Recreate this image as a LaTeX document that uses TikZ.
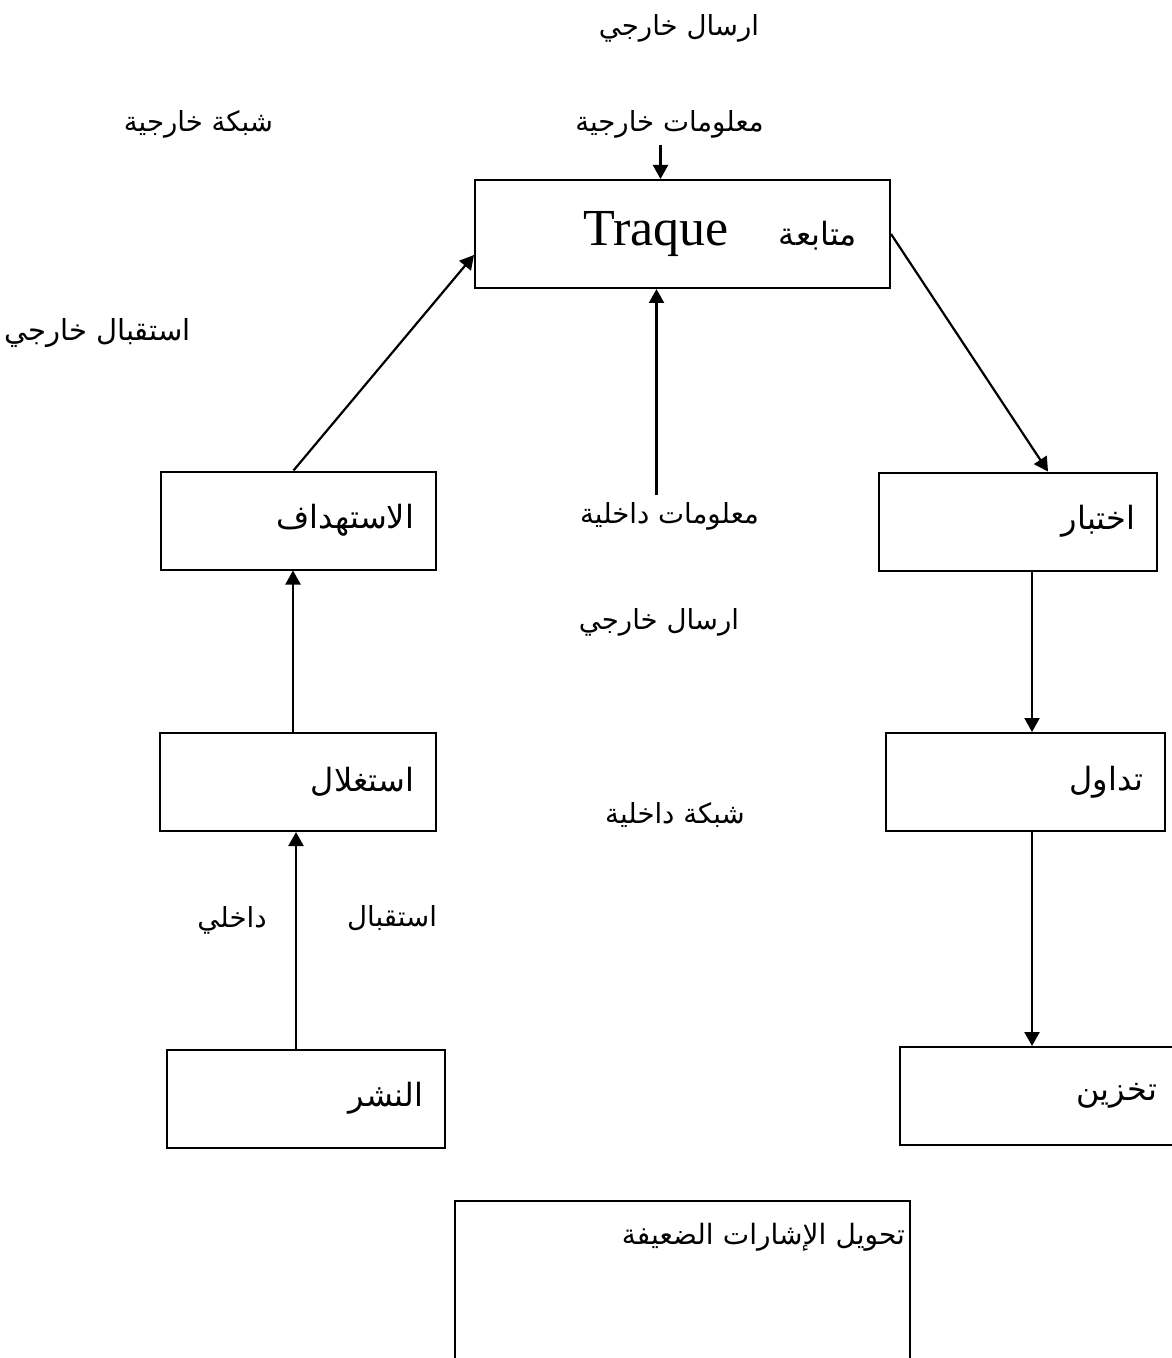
\documentclass[tikz,border=0pt]{standalone}
\usepackage{fontspec}
\setmainfont{Liberation Serif}
\newfontfamily\arabicfont[Script=Arabic]{DejaVu Sans}
\TeXXeTstate=1
\usetikzlibrary{arrows.meta, positioning}
\newcommand{\ar}[1]{{\arabicfont\beginR #1\endR}}

\tikzset{
  blk/.style={draw, line width=1pt, minimum height=49pt, inner xsep=11pt, align=right, font=\fontsize{16}{19}\selectfont},
  lbl/.style={font=\fontsize{13.8}{16}\selectfont},
  arr/.style={-{Triangle[length=7pt, width=7.5pt]}, line width=1.1pt},
}

\begin{document}
\begin{tikzpicture}[x=0.5pt, y=-0.5pt]
    \useasboundingbox (0,0) rectangle (1171,1358);

    % Boxes
    \node[blk, text width=174.5pt, inner xsep=16.5pt, minimum height=54pt] (trk) at (682.5,234)
        {{\fontsize{26}{30}\selectfont Traque}\hspace{25pt}\ar{متابعة}};
    \node[blk, text width=115.5pt] (ist) at (298.5,520.5) {\ar{الاستهداف}};
    \node[blk, text width=117pt] (ikh) at (1018,521.5) {\ar{اختبار}};
    \node[blk, text width=116pt] (ghl) at (298,782) {\ar{استغلال}};
    \node[blk, text width=117.5pt] (tdw) at (1025.5,782) {\ar{تداول}};
    \node[blk, text width=117pt] (nsh) at (306,1098.5) {\ar{النشر}};
    \node[blk, text width=117.5pt] (tkh) at (1039.5,1096) {\ar{تخزين}};
    \node[blk, text width=222.5pt, inner xsep=2.5pt, anchor=north, inner ysep=11pt, text depth=90pt,
        font=\fontsize{14}{18}\selectfont] (twl) at (682.5,1200) {\ar{تحويل الإشارات الضعيفة}};

    % Labels
    \node[lbl] (ers1) at (679,28) {\ar{ارسال خارجي}};
    \node[lbl] (mkh) at (669.5,124) {\ar{معلومات خارجية}};
    \node[lbl] (shkh) at (198.5,124) {\ar{شبكة خارجية}};
    \node[lbl, font=\fontsize{14.5}{17}\selectfont] (istkh) at (97.5,333) {\ar{استقبال خارجي}};
    \node[lbl] (mdk) at (669.5,516) {\ar{معلومات داخلية}};
    \node[lbl] (ers2) at (659,622) {\ar{ارسال خارجي}};
    \node[lbl] (shd) at (675,815) {\ar{شبكة داخلية}};
    \node[lbl] (dkh) at (232,920) {\ar{داخلي}};
    \node[lbl] (istq) at (392,918) {\ar{استقبال}};

    % Arrows
    \draw[arr] ([xshift=-4.5pt]mkh.south) -- ([xshift=-4.5pt]mkh.south |- trk.north);
    \draw[arr] ([xshift=-6.5pt]mdk.north) -- ([xshift=-6.5pt]mdk.north |- trk.south);
    \draw[arr] ([xshift=-2.5pt]ist.north) -- ([yshift=-10.5pt]trk.west);
    \draw[arr] (trk.east) -- ([xshift=15pt]ikh.north);
    \draw[arr] ([xshift=7pt]ikh.south) -- ([xshift=7pt]ikh.south |- tdw.north);
    \draw[arr] ([xshift=3.25pt]tdw.south) -- ([xshift=3.25pt]tdw.south |- tkh.north);
    \draw[arr] ([xshift=-2.5pt]ghl.north) -- ([xshift=-2.5pt]ghl.north |- ist.south);
    \draw[arr] ([xshift=-5pt]nsh.north) -- ([xshift=-5pt]nsh.north |- ghl.south);
\end{tikzpicture}
\end{document}
